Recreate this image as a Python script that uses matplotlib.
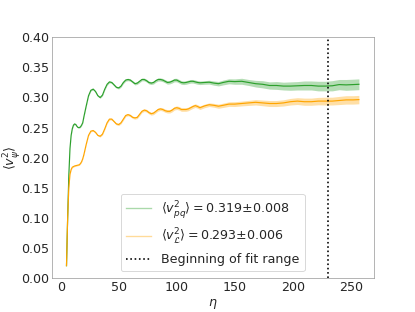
import numpy as np
import matplotlib
matplotlib.use('Agg')
import matplotlib.pyplot as plt
from matplotlib.lines import Line2D

# conformal time samples
eta = [5, 6, 7, 8, 9, 10, 11, 12, 13, 14, 15, 16, 17, 18, 19, 20,
       22, 24, 26, 28, 30, 32, 34, 36, 38, 40, 42, 44, 46, 48, 50, 52, 54, 56, 58, 60,
       62, 64, 66, 68, 70, 72, 74, 76, 78, 80, 82, 84, 86, 88, 90, 92, 94, 96, 98, 100,
       102, 104, 106, 108, 110, 112, 114, 116, 118, 120,
       124, 128, 132, 136, 140, 145, 150, 156, 162, 168, 174, 180, 186, 192, 198,
       204, 210, 216, 222, 228, 234, 240, 246, 252, 257]

v2_pq = [0.020, 0.100, 0.170, 0.215, 0.237, 0.248, 0.254, 0.256, 0.255, 0.252, 0.250, 0.250, 0.251, 0.254, 0.258, 0.268,
         0.286, 0.303, 0.312, 0.314, 0.310, 0.303, 0.300, 0.304, 0.314, 0.322, 0.326, 0.325, 0.321, 0.317, 0.316, 0.319, 0.325, 0.329, 0.330, 0.329,
         0.326, 0.323, 0.324, 0.327, 0.330, 0.330, 0.328, 0.325, 0.324, 0.325, 0.328, 0.330, 0.330, 0.329, 0.327, 0.325, 0.3255, 0.327, 0.329, 0.329,
         0.327, 0.325, 0.3245, 0.325, 0.326, 0.327, 0.327, 0.326, 0.325, 0.3245,
         0.325, 0.3255, 0.324, 0.323, 0.325, 0.327, 0.3265, 0.327, 0.325, 0.323, 0.322, 0.320, 0.320, 0.319, 0.319,
         0.3195, 0.320, 0.320, 0.319, 0.319, 0.3195, 0.3215, 0.321, 0.3215, 0.322]

v2_pq_err = [0.001] * 16 + \
    [0.001, 0.001, 0.0012, 0.0012, 0.0013, 0.0013, 0.0014, 0.0014, 0.0015, 0.0015,
     0.0016, 0.0016, 0.0017, 0.0017, 0.0018, 0.0018, 0.0019, 0.0019, 0.002, 0.002,
     0.002, 0.0021, 0.0021, 0.0022, 0.0022, 0.0023, 0.0023, 0.0024, 0.0024, 0.0025,
     0.0025, 0.0026, 0.0026, 0.0027, 0.0027, 0.0028, 0.0028, 0.0029, 0.0029, 0.003,
     0.003, 0.003, 0.003, 0.003, 0.003, 0.003, 0.003, 0.003, 0.003, 0.003] + \
    [0.003, 0.0032, 0.0035, 0.0037, 0.004, 0.0042, 0.0045, 0.005, 0.005, 0.0055,
     0.006, 0.006, 0.0065, 0.0065, 0.007, 0.007, 0.0075, 0.0075, 0.008, 0.008,
     0.0085, 0.0085, 0.009, 0.009, 0.009]

v2_L = [0.020, 0.100, 0.150, 0.172, 0.180, 0.184, 0.185, 0.186, 0.1865, 0.187, 0.1875, 0.188, 0.190, 0.193, 0.198, 0.205,
        0.222, 0.237, 0.244, 0.245, 0.242, 0.237, 0.2355, 0.239, 0.248, 0.258, 0.264, 0.264, 0.260, 0.256, 0.255, 0.258, 0.264, 0.270, 0.2715, 0.270,
        0.267, 0.266, 0.267, 0.272, 0.277, 0.279, 0.278, 0.275, 0.273, 0.274, 0.277, 0.280, 0.281, 0.280, 0.278, 0.277, 0.277, 0.279, 0.282, 0.283,
        0.282, 0.280, 0.280, 0.280, 0.281, 0.283, 0.285, 0.2865, 0.285, 0.283,
        0.286, 0.288, 0.287, 0.2855, 0.287, 0.289, 0.289, 0.290, 0.291, 0.292, 0.291, 0.290, 0.290, 0.291, 0.293,
        0.294, 0.293, 0.293, 0.294, 0.294, 0.294, 0.295, 0.296, 0.296, 0.2965]

v2_L_err = [0.001] * 16 + \
    [0.001, 0.001, 0.0012, 0.0012, 0.0013, 0.0013, 0.0014, 0.0014, 0.0015, 0.0015,
     0.0016, 0.0016, 0.0017, 0.0017, 0.0018, 0.0018, 0.0019, 0.0019, 0.002, 0.002,
     0.002, 0.0021, 0.0021, 0.0022, 0.0022, 0.0023, 0.0023, 0.0024, 0.0024, 0.0025,
     0.0025, 0.0026, 0.0026, 0.0027, 0.0027, 0.0028, 0.0028, 0.0029, 0.0029, 0.003,
     0.003, 0.003, 0.003, 0.003, 0.003, 0.003, 0.003, 0.003, 0.003, 0.003] + \
    [0.003, 0.003, 0.0032, 0.0034, 0.0036, 0.0038, 0.004, 0.004, 0.0042, 0.0045,
     0.0047, 0.005, 0.005, 0.0052, 0.0055, 0.0057, 0.006, 0.006, 0.0062, 0.0065,
     0.0065, 0.0068, 0.007, 0.007, 0.007]

fit_start = 230
label_pq = r'$\langle v_{pq}^2 \rangle = $0.319±0.008'
label_L = r'$\langle v_{\mathcal{L}}^2 \rangle = $0.293±0.006'

plt.rcParams['font.size'] = 14
plt.rcParams['text.color'] = '#262626'
plt.rcParams['axes.labelcolor'] = '#262626'
plt.rcParams['xtick.color'] = '#262626'
plt.rcParams['ytick.color'] = '#262626'
plt.rcParams['axes.edgecolor'] = '#999999'
plt.rcParams['xtick.major.size'] = 0
plt.rcParams['ytick.major.size'] = 0

green = '#2ca02c'
orange = '#ffa500'

f, s = plt.subplots(figsize=(415/65., 312/65.), dpi=65)

eta_a = np.array(eta)
for vals, err, c in [(v2_pq, v2_pq_err, green), (v2_L, v2_L_err, orange)]:
    vals = np.array(vals)
    err = np.array(err)
    s.fill_between(eta_a, vals - err, vals + err, color=c, alpha=0.35, lw=0)
    s.plot(eta_a, vals, '-', c=c, lw=1.3)

s.axvline(fit_start, c='k', ls=':', lw=1.8)

s.set_ylim(0, 0.4)
s.set_yticks(np.arange(0, 0.41, 0.05))
s.set_xlabel(r'$\eta$')
s.set_ylabel(r'$\langle v_{\psi}^2 \rangle$', labelpad=-3)

handles = [Line2D([], [], c=green, lw=1.5, alpha=0.4),
           Line2D([], [], c=orange, lw=1.5, alpha=0.4),
           Line2D([], [], c='k', ls=':', lw=1.8)]
s.legend(handles, [label_pq, label_L, 'Beginning of fit range'], loc='lower center')

plt.savefig('out.png', dpi=65)
